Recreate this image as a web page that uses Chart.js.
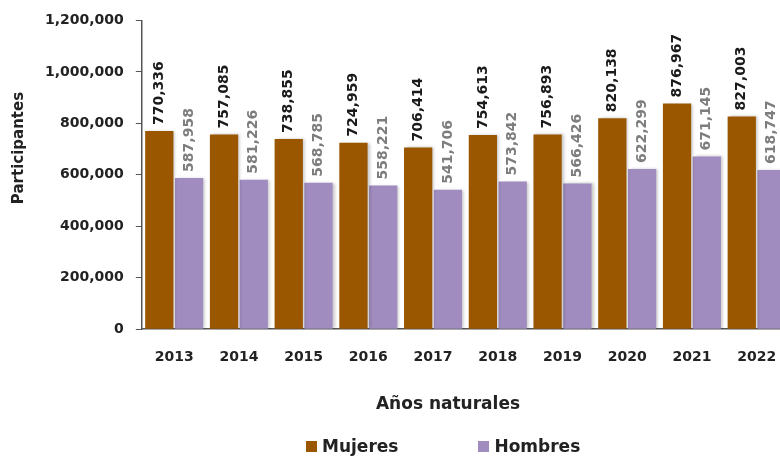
<!DOCTYPE html>
<html>
<head>
<meta charset="utf-8">
<script src="https://cdn.jsdelivr.net/npm/chart.js@4/dist/chart.umd.min.js"></script>
<style>
  html, body { margin: 0; padding: 0; background: #fff; overflow: hidden; }
  #wrap { position: relative; width: 896px; height: 457px; }
  #leyenda {
    position: absolute; left: 306px; top: 436px;
    display: flex; gap: 80px;
    font: bold 17px 'DejaVu Sans', sans-serif; color: #222;
  }
  #leyenda .item { display: flex; align-items: center; }
  #leyenda .caja { width: 11px; height: 11px; margin-right: 5px; }
</style>
</head>
<body>
<div id="wrap">
  <canvas id="grafica"></canvas>
  <div id="leyenda"></div>
</div>
<script>
const years = ['2013', '2014', '2015', '2016', '2017', '2018', '2019', '2020', '2021', '2022'];
const mujeres = [770336, 757085, 738855, 724959, 706414, 754613, 756893, 820138, 876967, 827003];
const hombres = [587958, 581226, 568785, 558221, 541706, 573842, 566426, 622299, 671145, 618747];
const yTicks = [0, 200000, 400000, 600000, 800000, 1000000, 1200000];

const FONT = "'DejaVu Sans', sans-serif";
const fmt = v => v.toLocaleString('en-US');

// Etiquetas verticales encima de cada barra
const barLabels = {
    id: 'barLabels',
    afterDatasetsDraw(chart) {
        const ctx = chart.ctx;
        chart.data.datasets.forEach((ds, i) => {
            const meta = chart.getDatasetMeta(i);
            meta.data.forEach((bar, j) => {
                ctx.save();
                ctx.translate(bar.x, bar.y - 6);
                ctx.rotate(-Math.PI / 2);
                ctx.font = `bold 14px ${FONT}`;
                ctx.fillStyle = ds.labelColor;
                ctx.textAlign = 'left';
                ctx.textBaseline = 'middle';
                ctx.fillText(fmt(ds.data[j]), 0, 0);
                ctx.restore();
            });
        });
    }
};

// Títulos de los ejes (posición como en el original, no centrados en el área)
const axisTitles = {
    id: 'axisTitles',
    afterDraw(chart) {
        const ctx = chart.ctx;
        ctx.save();
        ctx.fillStyle = '#222';
        ctx.textAlign = 'center';
        ctx.textBaseline = 'middle';
        ctx.font = `bold 17px ${FONT}`;
        ctx.fillText('Años naturales', 448, 405);
        ctx.translate(19, 148);
        ctx.rotate(-Math.PI / 2);
        ctx.font = `bold 15px ${FONT}`;
        ctx.fillText('Participantes', 0, 0);
        ctx.restore();
    }
};

// Sombra suave de las barras
const barShadow = {
    id: 'barShadow',
    beforeDatasetsDraw(chart) {
        const ctx = chart.ctx;
        ctx.save();
        ctx.shadowColor = 'rgba(0,0,0,0.22)';
        ctx.shadowBlur = 3;
        ctx.shadowOffsetX = 2;
        ctx.shadowOffsetY = 0;
    },
    afterDatasetsDraw(chart) {
        chart.ctx.restore();
    }
};

const chart = new Chart(document.getElementById('grafica'), {
    type: 'bar',
    data: {
        labels: years,
        datasets: [
            { label: 'Mujeres', data: mujeres, backgroundColor: '#9A5700', labelColor: '#1a1a1a' },
            { label: 'Hombres', data: hombres, backgroundColor: '#A08CBF', labelColor: '#7d7d7d' }
        ]
    },
    options: {
        responsive: true,
        maintainAspectRatio: false,
        animation: false,
        categoryPercentage: 0.92,
        barPercentage: 0.95,
        layout: { padding: { left: 33, right: 107, top: 12, bottom: 79 } },
        plugins: {
            tooltip: { enabled: false },
            legend: { display: false }
        },
        scales: {
            x: {
                grid: { display: false },
                border: { display: true, color: '#555', width: 1.5 },
                ticks: {
                    color: '#222', padding: 12,
                    font: { family: FONT, size: 14, weight: 'bold' }
                }
            },
            y: {
                min: 0,
                max: 1200000,
                afterBuildTicks: axis => { axis.ticks = yTicks.map(v => ({ value: v })); },
                grid: { drawOnChartArea: false, drawTicks: true, tickLength: 6, color: '#555' },
                border: { display: true, color: '#555', width: 1.5 },
                ticks: {
                    color: '#222', padding: 12,
                    font: { family: FONT, size: 14, weight: 'bold' },
                    callback: v => fmt(v)
                }
            }
        }
    },
    plugins: [barShadow, barLabels, axisTitles]
});

// Leyenda en HTML (los elementos están muy separados en el original)
const leyenda = document.getElementById('leyenda');
chart.data.datasets.forEach(ds => {
    const item = document.createElement('div');
    item.className = 'item';
    const caja = document.createElement('span');
    caja.className = 'caja';
    caja.style.background = ds.backgroundColor;
    const txt = document.createElement('span');
    txt.textContent = ds.label;
    item.appendChild(caja);
    item.appendChild(txt);
    leyenda.appendChild(item);
});
</script>
</body>
</html>
